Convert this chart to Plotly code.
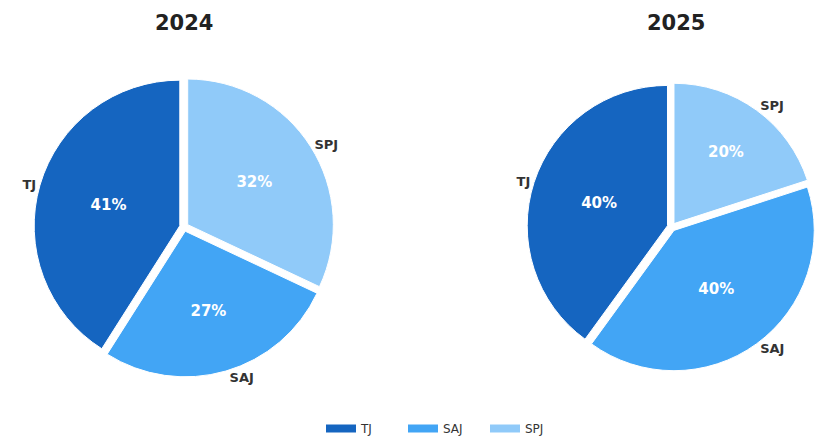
import plotly.graph_objects as go

categories = ["TJ", "SAJ", "SPJ"]
years = ["2024", "2025"]
values_2024 = [41, 27, 32]
values_2025 = [40, 40, 20]
colors = ["#1565C0", "#42A5F5", "#90CAF9"]

FONT = "DejaVu Sans"
W, H = 816, 443

dom_2024 = dict(x=[34 / W, 334 / W], y=[1 - 377 / H, 1 - 77 / H])
dom_2025 = dict(x=[527 / W, 1.0], y=[1 - 377 / H, 1 - 77 / H])

fig = go.Figure()
pull = 0.03

# slices run counter-clockwise from 12 o'clock: feed them reversed, clockwise
rc = categories[::-1]
rcol = colors[::-1]

for vals, dom, name in [(values_2024, dom_2024, years[0]), (values_2025, dom_2025, years[1])]:
    rv = vals[::-1]
    fig.add_trace(go.Pie(
        labels=rc, values=rv, sort=False, direction="clockwise",
        rotation=0, pull=[pull] * 3, domain=dom,
        marker=dict(colors=["rgba(0,0,0,0)"] * 3, line=dict(width=0)),
        textposition="outside", texttemplate="<b>%{label}</b>",
        outsidetextfont=dict(family=FONT, size=13, color="#333333"),
        showlegend=False, hoverinfo="skip", name=name + " labels",
    ))
    fig.add_trace(go.Pie(
        labels=rc, values=rv, sort=False, direction="clockwise",
        rotation=0, pull=[pull] * 3, domain=dom,
        marker=dict(colors=rcol, line=dict(color="white", width=1)),
        textposition="inside", texttemplate="<b>%{percent:.0%}</b>",
        insidetextorientation="horizontal",
        insidetextfont=dict(family=FONT, size=15, color="white"),
        showlegend=False, name=name,
    ))

# legend entries (flat bars)
for cat, col in zip(categories, colors):
    fig.add_trace(go.Scatter(x=[None], y=[None], mode="lines", name=cat,
                             line=dict(color=col, width=8), hoverinfo="skip"))

for yr, xc in zip(years, (184, 676)):
    fig.add_annotation(text="<b>" + yr + "</b>", x=xc / W, y=1 - 23 / H,
                       xref="paper", yref="paper", xanchor="center", yanchor="middle",
                       showarrow=False, font=dict(family=FONT, size=21, color="#222222"))

fig.update_layout(
    width=W, height=H, margin=dict(l=0, r=0, t=0, b=0, autoexpand=False),
    paper_bgcolor="white", plot_bgcolor="white",
    font=dict(family=FONT, color="#333333"),
    xaxis=dict(visible=False), yaxis=dict(visible=False),
    legend=dict(orientation="h", x=(328 - 7) / W, xanchor="left", y=0.0, yanchor="bottom",
                font=dict(family=FONT, size=12, color="#333333"),
                entrywidth=37, entrywidthmode="pixels", itemwidth=30),
)

fig.write_html("out.html")
